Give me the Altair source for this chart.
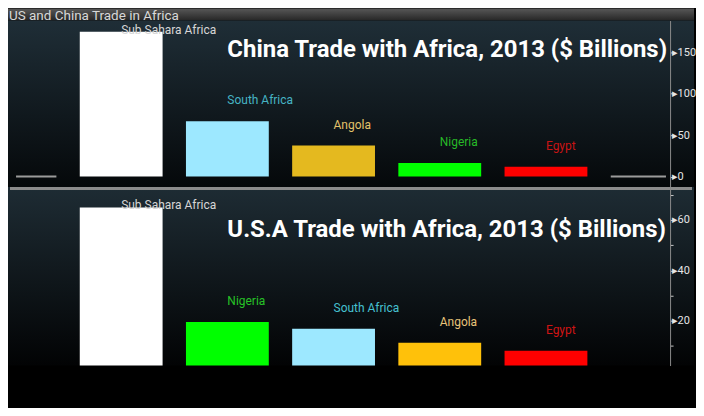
import altair as alt
import pandas as pd

# ---------------- data ----------------
main_title = "US and China Trade in Africa"
china_title = "China Trade with Africa, 2013 ($ Billions)"
usa_title = "U.S.A Trade with Africa, 2013 ($ Billions)"

china_regions = ["Sub Sahara Africa", "South Africa", "Angola", "Nigeria", "Egypt"]
china_values = [175, 67, 37.5, 16.5, 12]
china_ticks = [0, 25, 50, 75, 100, 125, 150, 175]

usa_regions = ["Sub Sahara Africa", "Nigeria", "South Africa", "Angola", "Egypt"]
usa_values = [65, 19.5, 16.8, 11.2, 8.1]
usa_ticks = [10, 20, 30, 40, 50, 60, 70]

# zero-line stubs at either side of the China panel (in bar-slot units)
china_zero_start = [0.01, 5.61]
china_zero_end = [0.39, 6.13]

# ---------------- styles ----------------
china_bar_colors = ["#ffffff", "#9de8ff", "#e4b91f", "#00ff00", "#ff0000"]
china_label_colors = ["#d6d6d6", "#46b4c4", "#e3c26a", "#27b927", "#c81414"]
usa_bar_colors = ["#ffffff", "#00ff00", "#9de8ff", "#ffc10a", "#ff0000"]
usa_label_colors = ["#d6d6d6", "#27c227", "#46c0d0", "#e8c47a", "#d01414"]

FONT = "Roboto"
W = 688
H_BAR = 12
H_TOP = 167
H_BOT = 179
AXIS_OFFSET = -24
HALF_BAR = 0.39

xs = alt.Scale(domain=[-0.0657, 6.394], nice=False, zero=False)


def grad(c0, c1):
    return alt.LinearGradient(
        gradient="linear",
        stops=[alt.GradientStop(color=c0, offset=0), alt.GradientStop(color=c1, offset=1)],
        x1=0, x2=0, y1=0, y2=1,
    )


def backdrop(height, c0, c1):
    return alt.Chart(pd.DataFrame({"b": [0]})).mark_rect(fill=grad(c0, c1), strokeWidth=0).encode(
        x=alt.value(0), x2=alt.value(W), y=alt.value(0), y2=alt.value(height)
    )


def heading(text, x, y, size, color, weight="normal"):
    return alt.Chart(pd.DataFrame({"t": [text]})).mark_text(
        align="left", baseline="alphabetic", font=FONT, fontSize=size,
        color=color, fontWeight=weight,
    ).encode(x=alt.value(x), y=alt.value(y), text="t:N")


def panel(regions, values, bar_colors, label_colors, y_domain,
          ticks, major, gap, cap, height, extra):
    df = pd.DataFrame({"region": regions, "value": values,
                       "slot": list(range(1, len(regions) + 1))})
    ys = alt.Scale(domain=y_domain, nice=False, zero=False)
    axis = alt.Axis(
        orient="right", offset=AXIS_OFFSET, values=ticks, title=None, grid=False,
        labelExpr=f"datum.value % {major} === 0 ? '\u25B8' + datum.label : ''",
        labelOverlap=False, labelFont=FONT, labelFontSize=11, labelColor="#e6e6e6",
        labelPadding=-2, tickSize=3, tickColor="#c8c8c8", tickWidth=1,
        domainColor="#8a8a8a", domainWidth=1, labelFlush=False, zindex=1,
    )
    base = alt.Chart(df).transform_calculate(
        x0=f"datum.slot - {HALF_BAR}",
        x1=f"datum.slot + {HALF_BAR}",
        label_y=f"min(datum.value + {gap}, {cap})",
    )
    bars = base.mark_bar(clip=True).encode(
        x=alt.X("x0:Q", scale=xs, axis=None),
        x2="x1:Q",
        y=alt.Y("value:Q", scale=ys, axis=axis),
        y2=alt.datum(0),
        fill=alt.Fill("region:N", scale=alt.Scale(domain=regions, range=bar_colors), legend=None),
    )
    labels = base.mark_text(align="left", baseline="middle", font=FONT, fontSize=12).encode(
        x=alt.X("slot:Q", scale=xs, axis=None),
        y=alt.Y("label_y:Q", scale=ys, axis=axis),
        color=alt.Color("region:N", scale=alt.Scale(domain=regions, range=label_colors), legend=None),
        text="region:N",
    )
    return alt.layer(*(extra + [bars, labels])).properties(width=W, height=height)


zero_df = pd.DataFrame({"start": china_zero_start, "end": china_zero_end})
zero_rules = alt.Chart(zero_df).mark_rule(color="#9b9b9b", strokeWidth=2).encode(
    x=alt.X("start:Q", scale=xs, axis=None),
    x2="end:Q",
    y=alt.datum(0),
)

top = panel(china_regions, china_values, china_bar_colors, china_label_colors,
            [-12.65, 188.55], china_ticks, 50, 25.3, 177.7, H_TOP,
            [backdrop(H_TOP, "#1f2e37", "#05080a"), zero_rules,
             heading(china_title, 220, 36.5, 24, "#ffffff", "bold")])

sep = alt.Chart(pd.DataFrame({"s": [0]})).mark_rule(color="#8c8c8c", strokeWidth=3).encode(
    x=alt.value(2), x2=alt.value(W - 2), y=alt.value(1.5)
)
bottom = panel(usa_regions, usa_values, usa_bar_colors, usa_label_colors,
               [2.18, 73.07], usa_ticks, 20, 8.3, 65.9, H_BOT,
               [backdrop(H_BOT, "#1e2c34", "#020304"), sep,
                heading(usa_title, 220, 49.7, 24, "#ffffff", "bold")])

title_bar = alt.layer(
    backdrop(H_BAR, "#575757", "#262626"),
    heading(main_title, 1, 11, 13.5, "#d8d8d8"),
).properties(width=W, height=H_BAR)

chart = alt.vconcat(title_bar, top, bottom, spacing=0, bounds="flush").resolve_scale(
    y="independent", fill="independent", color="independent"
).properties(
    background="#000000",
    padding={"left": 0, "top": 0, "right": 0, "bottom": 42},
).configure_view(strokeWidth=0)

chart.save("out.html", embed_options={"renderer": "svg", "actions": False})
